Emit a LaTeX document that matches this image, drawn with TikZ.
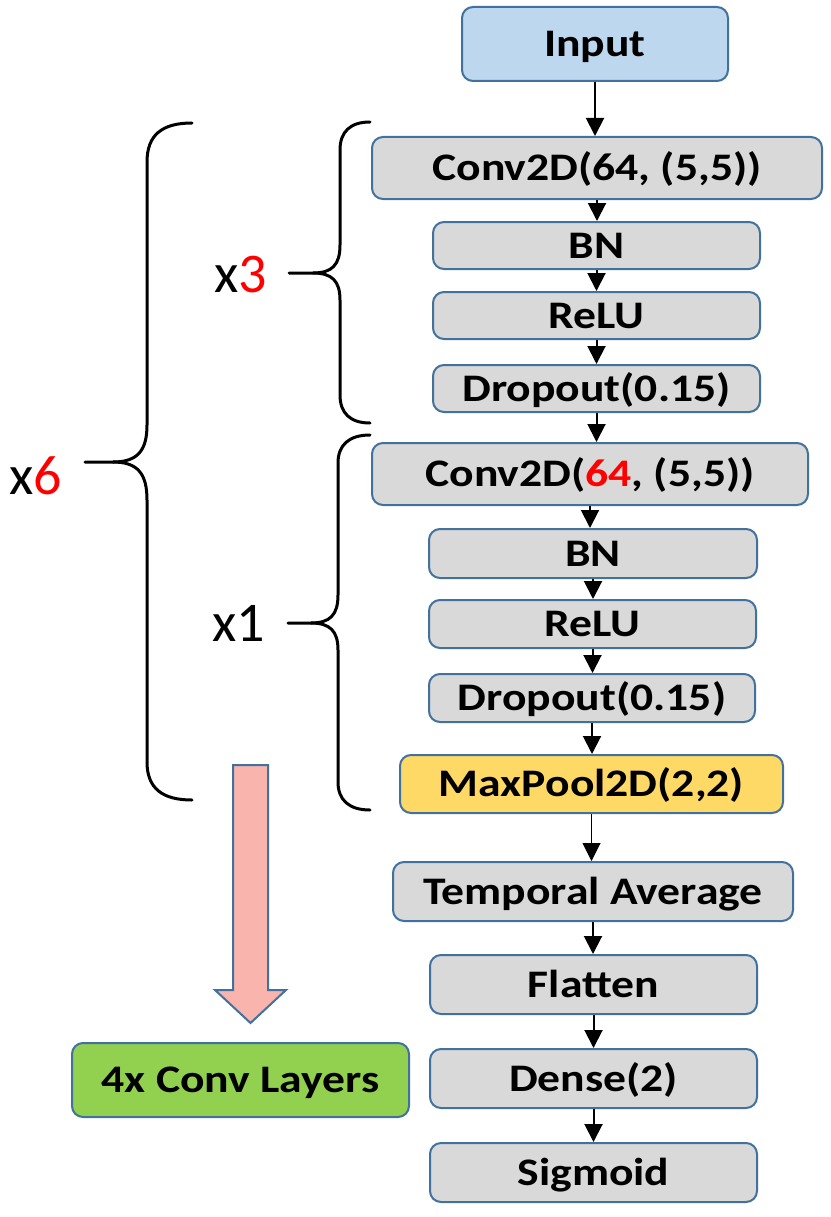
\documentclass[tikz,border=0pt]{standalone}
\usepackage{fontspec}
\setmainfont{Carlito}
\newfontfamily\boxfont[FakeStretch=1.17]{Carlito}
\usetikzlibrary{arrows.meta}
\definecolor{bordc}{HTML}{41719C}
\definecolor{grayf}{HTML}{D9D9D9}
\definecolor{bluef}{HTML}{BDD7EE}
\definecolor{yellf}{HTML}{FFD966}
\definecolor{greenf}{HTML}{92D050}
\definecolor{pinkf}{HTML}{F9B4AE}
\begin{document}
\begin{tikzpicture}[x=1pt,y=-1pt,
  box/.style={draw=bordc, line width=2pt, rounded corners=11pt, fill=grayf, inner sep=0pt,
     font=\boxfont\fontsize{39}{46}\selectfont\bfseries, text height=29pt, text depth=4pt},
  arr/.style={line width=2pt, -{Triangle[length=18pt,width=18pt]}},
  brace/.style={line width=3pt, line cap=round},
  lab/.style={font=\fontsize{56}{66}\selectfont, inner sep=0pt}]
\useasboundingbox (0,0) rectangle (830,1217);

\node[box, fill=bluef, minimum width=266pt, minimum height=74pt] (inp) at (595,44) {Input};
\node[box, minimum width=450pt, minimum height=62pt] (c1) at (597,168) {Conv2D(64, (5,5))};
\node[box, minimum width=327pt, minimum height=47pt] (bn1) at (596.5,245.5) {BN};
\node[box, minimum width=327pt, minimum height=47pt] (relu1) at (596.5,315.5) {ReLU};
\node[box, minimum width=327pt, minimum height=47pt] (do1) at (596.5,388.5) {Dropout(0.15)};
\node[box, minimum width=436pt, minimum height=62pt] (c2) at (590,474) {Conv2D(\textcolor{red}{64}, (5,5))};
\node[box, minimum width=328pt, minimum height=49pt] (bn2) at (593,553.5) {BN};
\node[box, minimum width=327pt, minimum height=48pt] (relu2) at (592.5,624) {ReLU};
\node[box, minimum width=326pt, minimum height=48pt] (do2) at (592,698) {Dropout(0.15)};
\node[box, fill=yellf, minimum width=383pt, minimum height=58pt] (mp) at (591.5,784) {MaxPool2D(2,2)};
\node[box, minimum width=400pt, minimum height=59pt] (ta) at (593,891.5) {Temporal Average};
\node[box, minimum width=327pt, minimum height=59pt] (fl) at (593.5,984.5) {Flatten};
\node[box, minimum width=327pt, minimum height=59pt] (de) at (593.5,1078.5) {Dense(2)};
\node[box, minimum width=327pt, minimum height=59pt] (sg) at (593.5,1172.5) {Sigmoid};
\node[box, fill=greenf, minimum width=337pt, minimum height=74pt] (gr) at (240.5,1080) {4x Conv Layers};

\foreach \a/\b in {inp/c1, c1/bn1, bn1/relu1, relu1/do1, do1/c2, c2/bn2, bn2/relu2, relu2/do2, do2/mp, de/sg, ta/fl, fl/de}
  \draw[arr] (\a.south) -- (\a.south |- \b.north);
\draw[line width=1pt, -{Triangle[length=18pt,width=18pt]}] (mp.south) -- (mp.south |- ta.north);

% pink arrow
\draw[draw=bordc, line width=2pt, fill=pinkf, line join=miter]
  (233,765) -- (268,765) -- (268,990) -- (286,990) -- (250.5,1023) -- (215,990) -- (233,990) -- cycle;

% big brace x6
\draw[brace] (192,123) .. controls (162,123) and (147,135) .. (147,162) -- (147,425)
  .. controls (147,450) and (138,462) .. (113,462) -- (85,462);
\draw[brace] (113,462) .. controls (138,462) and (147,474) .. (147,500) -- (147,762)
  .. controls (147,788) and (162,800) .. (192,800);
% brace x3
\draw[brace] (370,122) .. controls (350,122) and (340,132) .. (340,150) -- (340,245)
  .. controls (340,265) and (332,273) .. (313,273) -- (289,273);
\draw[brace] (313,273) .. controls (332,273) and (340,281) .. (340,300) -- (340,395)
  .. controls (340,413) and (350,423) .. (370,423);
% brace x1
\draw[brace] (370,435) .. controls (349,435) and (338,445) .. (338,463) -- (338,595)
  .. controls (338,615) and (330,623) .. (311,623) -- (288,623);
\draw[brace] (311,623) .. controls (330,623) and (338,631) .. (338,650) -- (338,782)
  .. controls (338,800) and (349,810) .. (370,810);

\node[lab] (l6) at (36,476) {x\textcolor{red}{6}};
\node[lab] (l3) at (241,275) {x\textcolor{red}{3}};
\node[lab] (l1) at (239,623) {x1};
\end{tikzpicture}
\end{document}
